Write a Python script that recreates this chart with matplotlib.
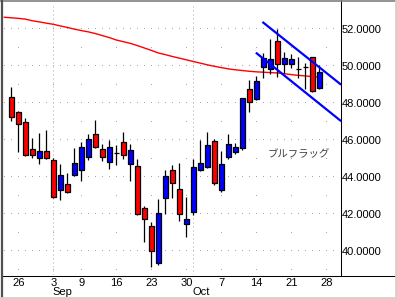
# bull flag candle chart

import numpy as np
import pandas as pd
import matplotlib
matplotlib.use("Agg")
from matplotlib import pyplot as plt
from matplotlib import transforms
from matplotlib.lines import Line2D

plt.rcParams['font.family'] = ['Liberation Sans', 'DejaVu Sans']

W, H = 397, 299

# trading days (Labor Day is a holiday), last one has no candle yet
dates = pd.bdate_range("2013-08-23", "2013-10-28").drop(pd.Timestamp("2013-09-02"))

opens = [48.32, 47.51, 46.97, 45.51, 45.03, 45.42, 44.92, 43.30, 43.62, 44.11,
         44.37, 45.08, 46.34, 45.51, 44.81, 45.33, 45.89, 44.70, 44.59, 42.32,
         41.35, 39.35, 42.86, 44.38, 43.35, 41.46, 42.11, 44.38, 44.54, 45.95,
         43.30, 45.08, 45.35, 45.57, 48.76, 48.22, 49.95, 49.84, 51.35, 50.11,
         50.11, 49.84, 49.95, 50.49, 48.81]
highs = [48.90, 47.57, 47.19, 46.11, 46.41, 46.56, 45.03, 44.70, 44.22, 45.57,
         45.89, 46.34, 47.10, 45.80, 46.02, 45.75, 46.45, 45.80, 44.97, 42.43,
         41.57, 42.81, 44.38, 44.65, 44.76, 42.92, 44.97, 46.00, 46.43, 46.05,
         45.41, 46.32, 45.84, 48.30, 49.24, 49.46, 50.70, 51.46, 52.00, 50.76,
         50.65, 50.49, 50.20, 50.52, 50.05]
lows = [47.06, 45.38, 45.15, 45.03, 44.70, 44.97, 42.90, 42.77, 43.17, 44.09,
        43.82, 44.94, 45.60, 44.90, 44.46, 44.68, 44.97, 43.82, 41.95, 40.52,
        39.14, 39.24, 42.00, 42.86, 41.65, 40.75, 41.98, 44.36, 44.52, 43.57,
        43.19, 44.97, 45.24, 45.46, 47.51, 48.16, 49.35, 49.58, 49.41, 49.62,
        49.89, 49.35, 48.75, 48.62, 48.79]
closes = [47.24, 46.86, 45.19, 45.19, 45.42, 45.03, 42.95, 44.11, 43.19, 44.76,
          45.62, 46.05, 45.62, 45.08, 45.65, 45.33, 45.19, 45.46, 42.00, 41.73,
          40.00, 42.05, 44.05, 43.68, 42.00, 41.73, 44.54, 44.76, 45.73, 43.68,
          44.70, 45.78, 45.62, 48.27, 48.05, 49.19, 50.43, 50.38, 50.11, 50.43,
          50.38, 49.84, 49.95, 48.65, 49.68]

# moving average, starts one day before the first candle
ma = [52.65, 52.62, 52.59, 52.55, 52.46, 52.40, 52.33, 52.27, 52.18, 52.10,
      52.01, 51.93, 51.86, 51.77, 51.66, 51.55, 51.42, 51.33, 51.24, 51.12,
      50.99, 50.86, 50.72, 50.63, 50.53, 50.44, 50.35, 50.26, 50.17, 50.08,
      50.00, 49.93, 49.86, 49.81, 49.77, 49.73, 49.70, 49.68, 49.66, 49.64,
      49.60, 49.55, 49.51, 49.48, 49.44, 49.41]

# flag channel (day index, price)
upper_x, upper_y = [36.0, 47.0], [52.36, 49.04]
lower_x, lower_y = [35.06, 47.0], [50.70, 47.07]

label_text = "ブルフラッグ"
label_pos = (36.67, 45.26)


def fx(x):
    return x / W


def fy(y):
    return 1 - y / H


fig = plt.figure(figsize=(W / 100, H / 100), dpi=100)
fig.patch.set_facecolor("white")
ax = fig.add_axes([fx(3), fy(275), (340.5 - 3) / W, 272 / H])
ax.set_xlim(-1.186, 47.03)
ax.set_ylim(38.72, 53.42)
for s in ax.spines.values():
    s.set_visible(False)

n = len(dates)
week_idx = [i for i in range(1, n) if dates[i].weekday() < dates[i - 1].weekday()]
month_idx = [i for i in range(1, n) if dates[i].month != dates[i - 1].month]

# grid: dots at every day on even prices, weekly on odd prices
days = np.arange(-1, n + 1)
for p in range(40, 53, 2):
    ax.plot(days, [p] * len(days), ",", color="#a8a8a8", zorder=1)
for p in range(39, 52, 2):
    ax.plot(week_idx, [p] * len(week_idx), ",", color="#a8a8a8", zorder=1)
for i in month_idx:
    ax.axvline(i, color="#b0b0b0", lw=0.72, ls=(0, (1, 3)), zorder=1)

# moving average
ax.plot(np.arange(-1, len(ma) - 1), ma, color="#ff0000", lw=1.0, zorder=2)

# candles
x = np.arange(len(opens))
o = np.array(opens)
c = np.array(closes)
colors = ["#0000ff" if cc > oo else "#ff0000" for oo, cc in zip(o, c)]
ax.vlines(x, lows, highs, color="black", lw=0.9, zorder=3)
ax.bar(x, np.abs(c - o), bottom=np.minimum(o, c), width=0.66, color=colors,
       edgecolor="black", lw=0.9, zorder=4)

# channel
ax.plot(upper_x, upper_y, color="#0000ff", lw=1.6, zorder=5)
ax.plot(lower_x, lower_y, color="#0000ff", lw=1.6, zorder=5)

ax.text(label_pos[0], label_pos[1], label_text, fontsize=7.5, color="#404040",
        family=["Noto Sans CJK JP", "DejaVu Sans"], ha="left", va="center")

# axis labels
ax.yaxis.tick_right()
yt = list(range(40, 53, 2))
ax.set_yticks(yt)
ax.set_yticklabels(["%.4f" % v for v in yt])
ax.tick_params(axis="y", length=0, pad=1, labelsize=8)
ax.set_xticks(week_idx)
ax.set_xticklabels([str(dates[i].day) for i in week_idx])
ax.tick_params(axis="x", length=0, pad=2, labelsize=8)

trans = transforms.blended_transform_factory(ax.transData, fig.transFigure)
for i in month_idx:
    ax.text(i - 0.05, fy(292), dates[i].strftime("%b"), transform=trans,
            ha="left", va="center", fontsize=8)

# axis lines and window frame
lines = [
    ([fx(3), fx(395)], [fy(275.5), fy(275.5)], "black", 0.75),
    ([fx(340.5), fx(340.5)], [fy(0), fy(275.5)], "black", 0.75),
    ([fx(0), fx(W)], [fy(0.8), fy(0.8)], "#808080", 1.2),
    ([fx(1.5), fx(1.5)], [fy(0), fy(H)], "#505050", 1.6),
    ([fx(396), fx(396)], [fy(0), fy(H)], "#d4d0c8", 2.0),
    ([fx(0), fx(W)], [fy(298), fy(298)], "#d4d0c8", 2.0),
]
for xs, ys, col, lw in lines:
    fig.add_artist(Line2D(xs, ys, color=col, lw=lw, transform=fig.transFigure))

fig.savefig("out.png", dpi=100)
